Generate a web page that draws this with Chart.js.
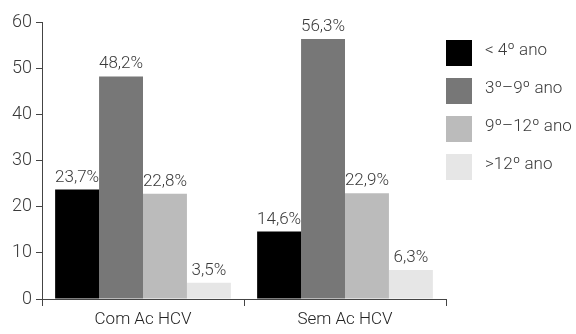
<!DOCTYPE html>
<html>
<head>
<meta charset="utf-8">
<script src="https://cdn.jsdelivr.net/npm/chart.js@4/dist/chart.umd.min.js"></script>
<style>
  body { margin: 0; background: #fff; }
  #wrap { width: 576px; height: 334px; }
</style>
</head>
<body>
<div id="wrap"><canvas id="chart" width="576" height="334"></canvas></div>
<script>
var categories = ["Com Ac HCV", "Sem Ac HCV"];
var seriesNames = ["< 4º ano", "3º\u20139º ano", "9º\u201312º ano", ">12º ano"];
var series1 = [23.7, 14.6];
var series2 = [48.2, 56.3];
var series3 = [22.8, 22.9];
var series4 = [3.5, 6.3];
var yTicks = [0, 10, 20, 30, 40, 50, 60];
var colors = ["#000000", "#777777", "#bbbbbb", "#e6e6e6"];

var FONT = "Roboto, 'DejaVu Sans Condensed', sans-serif";
var TEXT = "#3a3a3a";

// value labels above bars, comma decimal
var valueLabels = {
    id: 'valueLabels',
    afterDatasetsDraw: function(chart) {
        var ctx = chart.ctx;
        ctx.save();
        ctx.font = "300 17px " + FONT;
        ctx.fillStyle = TEXT;
        ctx.textAlign = 'center';
        ctx.textBaseline = 'alphabetic';
        chart.data.datasets.forEach(function(ds, i) {
            chart.getDatasetMeta(i).data.forEach(function(bar, j) {
                var txt = ds.data[j].toFixed(1).replace('.', ',') + '%';
                ctx.fillText(txt, bar.x, bar.y - 8);
            });
        });
        ctx.restore();
    }
};

// legend on the right with big square swatches
var sideLegend = {
    id: 'sideLegend',
    afterDraw: function(chart) {
        var ctx = chart.ctx;
        ctx.save();
        ctx.font = "300 17px " + FONT;
        ctx.textBaseline = 'middle';
        chart.data.datasets.forEach(function(ds, i) {
            var y = 40 + i * 38;
            ctx.fillStyle = ds.backgroundColor;
            ctx.fillRect(446, y, 26, 26);
            ctx.fillStyle = TEXT;
            ctx.fillText(ds.label, 485, y + 11);
        });
        ctx.restore();
    }
};

var datasets = [series1, series2, series3, series4].map(function(d, i) {
    return {
        label: seriesNames[i],
        data: d,
        backgroundColor: colors[i],
        borderWidth: 0,
        categoryPercentage: 0.87,
        barPercentage: 1.0
    };
});

new Chart(document.getElementById("chart"), {
    type: 'bar',
    data: { labels: categories, datasets: datasets },
    plugins: [valueLabels, sideLegend],
    options: {
        responsive: false,
        animation: false,
        layout: { padding: { top: 22, right: 130, left: 0, bottom: 0 } },
        plugins: {
            legend: { display: false },
            tooltip: { enabled: false }
        },
        scales: {
            x: {
                grid: { display: true, drawOnChartArea: false, drawTicks: true, tickLength: 7, offset: true, color: '#444' },
                border: { display: true, color: '#444', width: 1 },
                ticks: { color: '#222', font: { family: FONT, size: 17, weight: 300 }, padding: 4 },
                afterFit: function(s) { s.height = 35; }
            },
            y: {
                min: 0,
                max: 60,
                afterBuildTicks: function(s) { s.ticks = yTicks.map(function(v) { return { value: v }; }); },
                grid: { display: true, drawOnChartArea: false, drawTicks: true, tickLength: 6, color: '#444' },
                border: { display: true, color: '#444', width: 1 },
                ticks: { color: TEXT, font: { family: FONT, size: 18, weight: 300 }, padding: 4 },
                afterFit: function(s) { s.width = 42; }
            }
        }
    }
});
</script>
</body>
</html>
